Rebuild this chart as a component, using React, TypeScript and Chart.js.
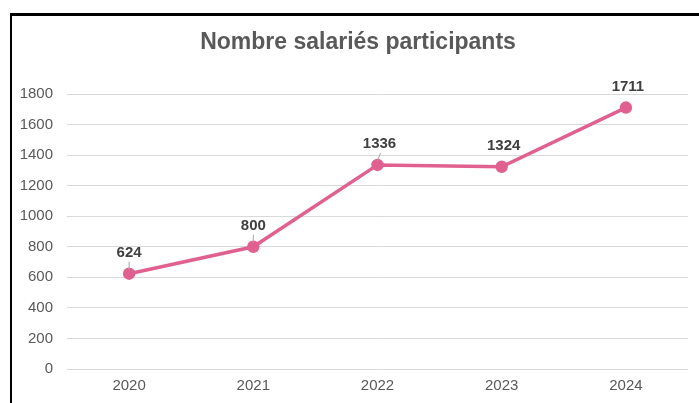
import React, { useEffect, useRef } from "react";
import { Chart, registerables } from "chart.js";

Chart.register(...registerables);

const years = ["2020", "2021", "2022", "2023", "2024"];
const participants = [624, 800, 1336, 1324, 1711];
const yTicks = [0, 200, 400, 600, 800, 1000, 1200, 1400, 1600, 1800];
const titleText = "Nombre salariés participants";
const leaderLines = [true, true, true, false, false];

const FONT = "'Liberation Sans', Arial, Helvetica, sans-serif";
const LINE_COLOR = "#e0608f";

export default function App() {
  const ref = useRef<HTMLCanvasElement | null>(null);

  useEffect(() => {
    if (!ref.current) return;
    const labelPlugin = {
      id: "customLabels",
      afterDraw(chart: any) {
        const ctx = chart.ctx;
        ctx.save();
        // title
        ctx.font = `bold 23px ${FONT}`;
        ctx.fillStyle = "#595959";
        ctx.textAlign = "center";
        ctx.textBaseline = "middle";
        ctx.fillText(titleText, 358, 43);
        // data labels
        const meta = chart.getDatasetMeta(0);
        meta.data.forEach((pt: any, i: number) => {
          const x = pt.x;
          const y = pt.y;
          ctx.font = `bold 15px ${FONT}`;
          ctx.fillStyle = "#404040";
          ctx.textAlign = "center";
          ctx.textBaseline = "middle";
          ctx.fillText(String(participants[i]), x + (i >= 2 ? 2 : 0), y - 21);
          if (leaderLines[i]) {
            ctx.strokeStyle = "#a6a6a6";
            ctx.lineWidth = 1;
            ctx.beginPath();
            ctx.moveTo(x + (i === 2 ? 3 : 0), y - 12);
            ctx.lineTo(x, y - 4);
            ctx.stroke();
          }
        });
        ctx.restore();
      },
    };

    const chart = new Chart(ref.current, {
      type: "line",
      data: {
        labels: years,
        datasets: [
          {
            data: participants,
            borderColor: LINE_COLOR,
            backgroundColor: LINE_COLOR,
            borderWidth: 3.5,
            pointRadius: 4.5,
            pointHoverRadius: 4.5,
            pointBackgroundColor: LINE_COLOR,
            pointBorderColor: LINE_COLOR,
            tension: 0,
            clip: false as any,
          },
        ],
      },
      options: {
        animation: false,
        responsive: false,
        maintainAspectRatio: false,
        layout: { padding: { top: 94, left: 0, right: 11, bottom: 0 } },
        plugins: {
          legend: { display: false },
          title: { display: false },
          tooltip: { enabled: false },
        },
        scales: {
          x: {
            offset: true,
            grid: { display: false, drawTicks: false },
            border: { display: false },
            ticks: {
              color: "#595959",
              font: { family: FONT, size: 15 },
              padding: 8,
            },
            afterFit(scale: any) {
              scale.height = 34;
            },
          },
          y: {
            min: 0,
            max: 1800,
            afterBuildTicks(scale: any) {
              scale.ticks = yTicks.map((v) => ({ value: v }));
            },
            grid: { color: "#d9d9d9", lineWidth: 1, drawTicks: false },
            border: { display: false },
            ticks: {
              color: "#595959",
              font: { family: FONT, size: 15 },
              padding: 14,
              callback: (v: any) => String(v),
            },
            afterFit(scale: any) {
              scale.width = 67;
            },
          },
        },
      },
      plugins: [labelPlugin],
    });
    return () => chart.destroy();
  }, []);

  return (
    <div
      style={{
        position: "fixed",
        left: 0,
        top: 0,
        width: 699,
        height: 403,
        background: "#fff",
        overflow: "hidden",
      }}
    >
      <div
        style={{
          position: "absolute",
          left: 10,
          top: 13,
          width: 720,
          height: 420,
          borderTop: "3px solid #000",
          borderLeft: "2px solid #000",
          boxSizing: "border-box",
        }}
      />
      <canvas
        ref={ref}
        width={699}
        height={403}
        style={{ position: "absolute", left: 0, top: 0, width: 699, height: 403 }}
      />
    </div>
  );
}
